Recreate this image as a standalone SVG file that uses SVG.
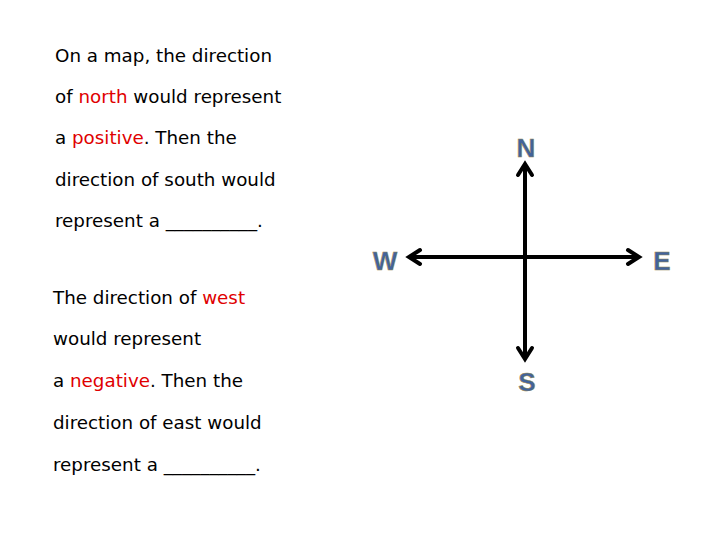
<svg xmlns="http://www.w3.org/2000/svg" width="720" height="540" viewBox="0 0 720 540">
<style>
.t{font-family:"DejaVu Sans",sans-serif;font-size:18.3px;fill:#000}
.r{fill:#e00000}
.c{font-family:"Liberation Sans",Arial,sans-serif;font-weight:bold;font-size:26px;fill:#42639c;stroke:#9a8a4a;stroke-width:0.5;text-anchor:middle}
.ln{stroke:#000;stroke-width:4;fill:none}
.hd{stroke:#000;stroke-width:4;fill:none;stroke-linecap:round;stroke-linejoin:miter}
</style>
<rect width="720" height="540" fill="#fff"/>
<g id="text1">
<text class="t" x="55" y="62">On a map, the direction</text>
<text class="t" x="55" y="103">of <tspan class="r">north</tspan> would represent</text>
<text class="t" x="55" y="144">a <tspan class="r">positive</tspan>. Then the</text>
<text class="t" x="55" y="186">direction of south would</text>
<text class="t" x="55" y="227">represent a __________.</text>
</g>
<g id="text2">
<text class="t" x="53" y="304">The direction of <tspan class="r">west</tspan></text>
<text class="t" x="53" y="345">would represent</text>
<text class="t" x="53" y="387">a <tspan class="r">negative</tspan>. Then the</text>
<text class="t" x="53" y="429">direction of east would</text>
<text class="t" x="53" y="471">represent a __________.</text>
</g>
<g id="connectors">
<line class="ln" x1="525" y1="165" x2="525" y2="358"/>
<line class="ln" x1="410" y1="257" x2="638" y2="257"/>
<polyline class="hd" points="518,175 525,164 532,175"/>
<polyline class="hd" points="518,348 525,359 532,348"/>
<polyline class="hd" points="420,250 409,257 420,264"/>
<polyline class="hd" points="628,250 639,257 628,264"/>
</g>
<g id="N"><text class="c" x="526" y="157">N</text></g>
<g id="S"><text class="c" x="527" y="391">S</text></g>
<g id="W"><text class="c" x="385" y="270">W</text></g>
<g id="E"><text class="c" x="662" y="270">E</text></g>
</svg>
